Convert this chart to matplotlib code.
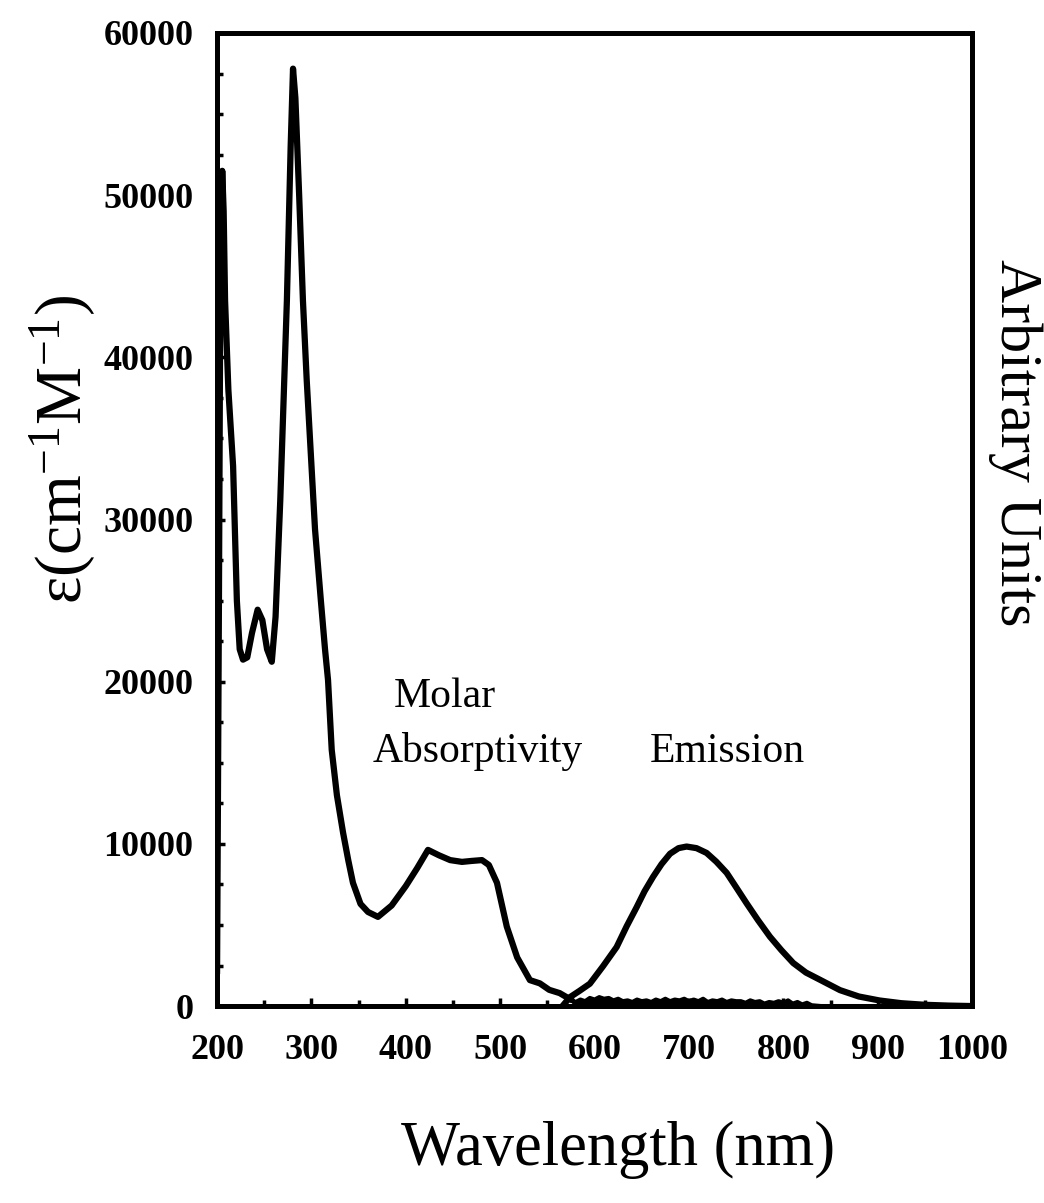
import matplotlib
matplotlib.use("Agg")
import matplotlib.pyplot as plt
from matplotlib.ticker import MultipleLocator

plt.rcParams['font.family'] = ['Liberation Serif', 'DejaVu Serif']
plt.rcParams['mathtext.fontset'] = 'custom'
plt.rcParams['mathtext.rm'] = 'Liberation Serif'
plt.rcParams['mathtext.it'] = 'Liberation Serif:italic'

# Molar absorptivity (cm^-1 M^-1)
abs_wl = [200, 202, 203.5, 205.5, 207, 208.5, 212, 217, 221, 224, 227.5, 232, 237, 243,
          248, 253, 258, 262, 267, 274, 278, 280.5, 283, 287, 291, 295, 303.8, 310, 314.4,
          317.6, 321.5, 327, 333.5, 339, 344, 352, 360, 370.5, 385, 400, 412, 423.5, 435,
          447, 459.5, 470, 480.7, 488, 496.6, 507, 518, 531.5, 542, 552, 563, 575.7]
abs_eps = [2000, 25000, 45000, 51500, 49000, 43500, 38000, 33300, 25000, 22000, 21360,
           21500, 23000, 24440, 23800, 22000, 21230, 24000, 31200, 43500, 53000, 57800,
           56000, 50000, 43500, 38600, 29400, 25000, 22000, 20100, 15800, 13000, 10700,
           9000, 7600, 6300, 5800, 5500, 6200, 7400, 8500, 9630, 9300, 9000, 8890, 8950,
           9000, 8700, 7600, 4900, 3000, 1600, 1400, 1000, 800, 370]

# Noisy baseline of the absorptivity trace beyond 575 nm
base_wl = [575.7, 580, 585, 590, 595, 600, 605, 610, 615, 620, 625, 630, 635, 640, 645,
           650, 655, 660, 665, 670, 675, 680, 685, 690, 695, 700, 705, 710, 715, 720, 725,
           730, 735, 740, 745, 750, 755, 760, 765, 770, 775, 780, 785, 790, 795, 800, 805,
           810, 815, 820, 825, 830, 840, 900, 1000]
base_eps = [370, 250, 400, 300, 500, 400, 550, 450, 500, 350, 450, 300, 350, 250, 400,
            300, 350, 250, 400, 300, 450, 300, 400, 350, 450, 300, 400, 300, 450, 250,
            350, 300, 400, 250, 350, 300, 300, 200, 350, 250, 300, 150, 250, 200, 300, 200,
            350, 150, 250, 100, 200, 50, 0, 0, 0]

# Emission (arbitrary units)
em_wl = [566, 574, 584, 595, 609, 623.4, 634, 644.6, 653, 662, 671, 680, 689, 697.5, 708,
         718.7, 729, 740, 750, 761, 773, 785.8, 798, 810.5, 824, 838.8, 860, 880, 902, 925,
         950, 975, 1000]
em_int = [0, 0.056, 0.095, 0.14, 0.25, 0.37, 0.50, 0.62, 0.72, 0.81, 0.89, 0.955, 0.99,
          1.0, 0.99, 0.96, 0.905, 0.835, 0.745, 0.645, 0.54, 0.435, 0.35, 0.27, 0.21,
          0.165, 0.10, 0.06, 0.035, 0.018, 0.008, 0.003, 0]

xticks = [200, 300, 400, 500, 600, 700, 800, 900, 1000]
yticks = [0, 10000, 20000, 30000, 40000, 50000, 60000]

fig = plt.figure(figsize=(10.44, 12.03), dpi=100)
ax = fig.add_axes([0.2079, 0.1637, 0.7232, 0.8089])
ax.plot(abs_wl, abs_eps, color='black', lw=4.5, solid_joinstyle='round',
        solid_capstyle='round')
ax.fill_between(base_wl, 0, base_eps, color='black', lw=0)
ax.plot(base_wl, base_eps, color='black', lw=3, solid_joinstyle='round')
ax.set_xlim(200, 1000)
ax.set_ylim(0, 60000)
ax.set_xticks(xticks)
ax.set_xticklabels([str(v) for v in xticks])
ax.set_yticks(yticks)
ax.set_yticklabels([str(v) for v in yticks])
ax.xaxis.set_minor_locator(MultipleLocator(50))
ax.yaxis.set_minor_locator(MultipleLocator(2500))
ax.tick_params(axis='both', which='major', direction='in', length=6, width=2.5,
               labelsize=26, right=False, top=False)
ax.tick_params(axis='both', which='minor', direction='in', length=4, width=2.5,
               right=False, top=False)
ax.tick_params(axis='x', pad=20)
ax.tick_params(axis='y', pad=17)
for lab in ax.get_xticklabels() + ax.get_yticklabels():
    lab.set_fontweight('bold')
for sp in ax.spines.values():
    sp.set_linewidth(3.5)

ax2 = ax.twinx()
ax2.plot(em_wl, em_int, color='black', lw=4.5, solid_joinstyle='round')
ax2.set_ylim(0, 6.1)
ax2.set_yticks([])
for sp in ax2.spines.values():
    sp.set_linewidth(3.5)

ax.text(441.5, 19074, 'Molar', fontsize=30, ha='center', va='center')
ax.text(476.5, 15680, 'Absorptivity', fontsize=30, ha='center', va='center')
ax.text(741, 15680, 'Emission', fontsize=30, ha='center', va='center')

fig.text(0.592, 0.044, 'Wavelength (nm)', fontsize=45, ha='center', va='center')
fig.text(0.060, 0.626, 'ε(cm$^{\\mathrm{-1}}$M$^{\\mathrm{-1}}$)', fontsize=47,
         ha='center', va='center', rotation=90)
fig.text(0.972, 0.632, 'Arbitrary Units', fontsize=43, ha='center', va='center',
         rotation=-90)

fig.savefig('out.png', dpi=100)
